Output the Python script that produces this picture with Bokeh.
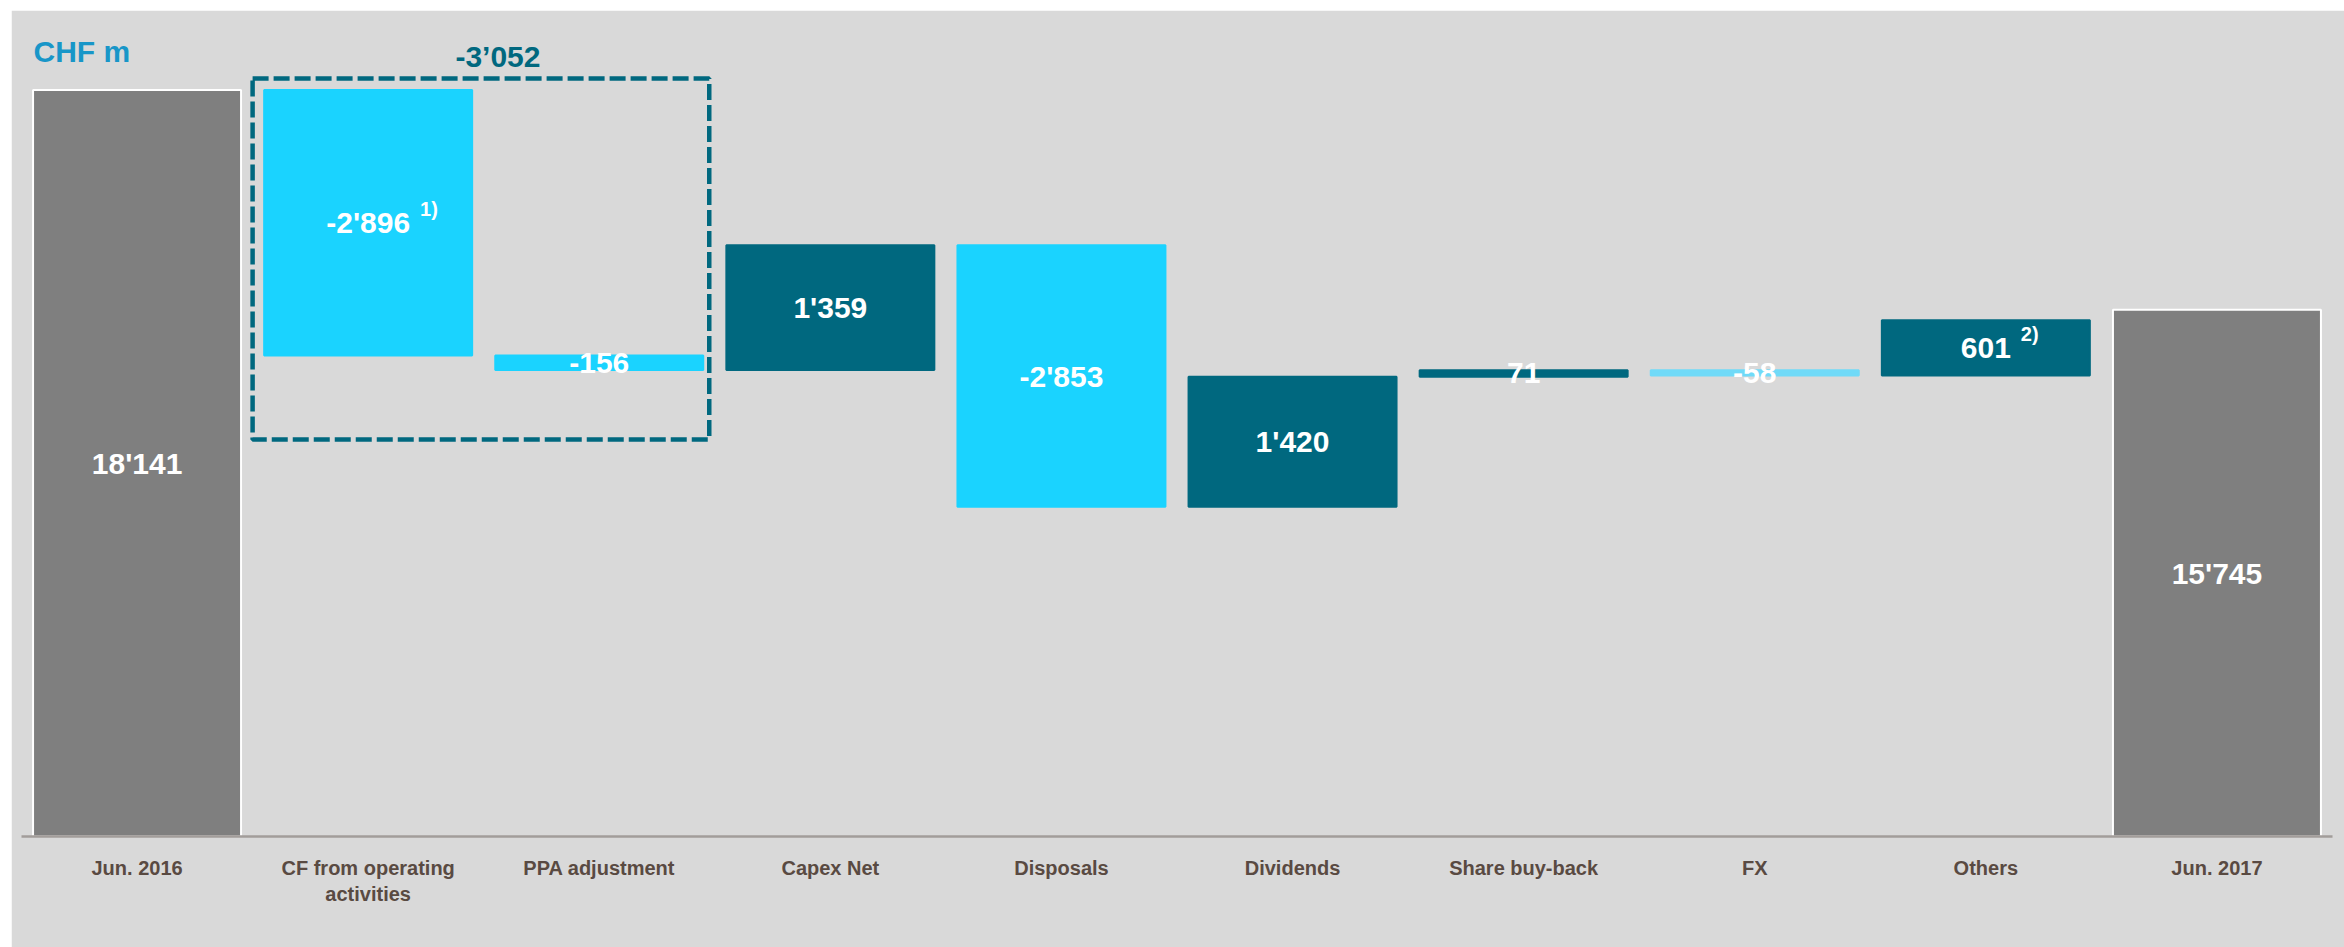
from bokeh.plotting import figure
from bokeh.models import Range1d, FixedTicker, ColumnDataSource
from bokeh.core.properties import value
from bokeh.embed import file_html
from bokeh.resources import INLINE

# ---------------- data ----------------
categories = ["Jun. 2016", "CF from operating\nactivities", "PPA adjustment", "Capex Net",
              "Disposals", "Dividends", "Share buy-back", "FX", "Others", "Jun. 2017"]
start_total = 18141
changes = [-2896, -156, 1359, -2853, 1420, 71, -58, 601]
end_total = 15745
notes = ["", "1)", "", "", "", "", "", "", "2)", ""]
group_total = -3052
group_members = [1, 2]
unit_label = "CHF m"
axis_start = 10000

# ---------------- styles ----------------
TOTAL = "#7F7F7F"
DEC = "#1AD3FF"
INC = "#00687F"
FX_C = "#70DAF8"
BG = "#D9D9D9"
TICK_C = "#594A42"
UNIT_C = "#1896C8"
FONT = "Liberation Sans"

# ---------------- build waterfall ----------------
vals = [start_total] + changes + [end_total]
bottoms, tops = [axis_start], [start_total]
level = start_total
for c in changes:
    new = level + c
    bottoms.append(min(level, new))
    tops.append(max(level, new))
    level = new
bottoms.append(axis_start)
tops.append(end_total)

colors = [TOTAL] + [INC if c > 0 else DEC for c in changes] + [TOTAL]
colors[7] = FX_C
lines = ["white" if col == TOTAL else col for col in colors]

def fmt(v):
    return f"{v:,}".replace(",", "'")

labels = [fmt(v) for v in vals]
xs = [i + 0.5 for i in range(len(categories))]
mids = [(b + t) / 2 for b, t in zip(bottoms, tops)]

cw = {"-": 0.333, "'": 0.238}
def text_w(s, size=30):
    return sum(cw.get(ch, 0.556) for ch in s) * size

note_off = [text_w(l) / 2 + 10 for l in labels]

src = ColumnDataSource(dict(x=xs, top=tops, bottom=bottoms, color=colors, line=lines,
                            label=labels, mid=mids, note=notes, noff=note_off))

# px scale: frame height 806 px
frame_h = 806
units_per_px = 10.906
y_end = axis_start + frame_h * units_per_px

p = figure(width=2333, height=937, output_backend="svg", toolbar_location=None,
           x_range=Range1d(0, len(categories)), y_range=Range1d(axis_start, y_end),
           min_border_left=10, min_border_right=12, min_border_top=20, min_border_bottom=111,
           background_fill_color=BG, border_fill_color=BG,
           outline_line_color=BG, outline_line_width=2)
p.margin = (10, 0, 0, 11)

p.vbar(x="x", top="top", bottom="bottom", width=0.9, fill_color="color",
       line_color="line", line_width=2, source=src)

p.text(x="x", y="mid", text="label", source=src, text_align="center", text_baseline="middle",
       text_color="white", text_font=value(FONT), text_font_style="bold", text_font_size="30px")
p.text(x="x", y="mid", text="note", source=src, text_align="left", text_baseline="middle",
       x_offset="noff", y_offset=-14,
       text_color="white", text_font=value(FONT), text_font_style="bold", text_font_size="20px")

# dashed group box
g0, g1 = min(group_members), max(group_members)
box_top = max(tops[g0:g1 + 1]) + 11.5 * units_per_px
box_bottom = min(bottoms[g0:g1 + 1]) - 69.5 * units_per_px
box_left = g0 + 0.0
box_right = g1 + 1 - 0.024
p.quad(left=[box_left], right=[box_right], top=[box_top], bottom=[box_bottom],
       fill_color=None, line_color=INC, line_width=4.5, line_dash="16 5")
p.text(x=[(box_left + box_right) / 2], y=[box_top], text=[fmt(group_total).replace("'", "\u2019")],
       x_offset=17, y_offset=-22, text_align="center", text_baseline="middle",
       text_color=INC, text_font=value(FONT), text_font_style="bold", text_font_size="30px")

# unit label
p.text(x=[0], y=[y_end], text=[unit_label], x_offset=12, y_offset=21,
       text_align="left", text_baseline="middle",
       text_color=UNIT_C, text_font=value(FONT), text_font_style="bold", text_font_size="30px")

p.xgrid.visible = False
p.ygrid.visible = False
p.yaxis.visible = False
xa = p.xaxis[0]
xa.ticker = FixedTicker(ticks=xs)
xa.major_label_overrides = {x: c for x, c in zip(xs, categories)}
xa.major_tick_line_color = None
xa.minor_tick_line_color = None
xa.axis_line_color = "#A29D9A"
xa.axis_line_width = 2.5
xa.major_label_standoff = 14
xa.major_label_text_font = FONT
xa.major_label_text_font_style = "bold"
xa.major_label_text_font_size = "20px"
xa.major_label_text_color = TICK_C

open("out.html", "w").write(file_html(p, INLINE))
